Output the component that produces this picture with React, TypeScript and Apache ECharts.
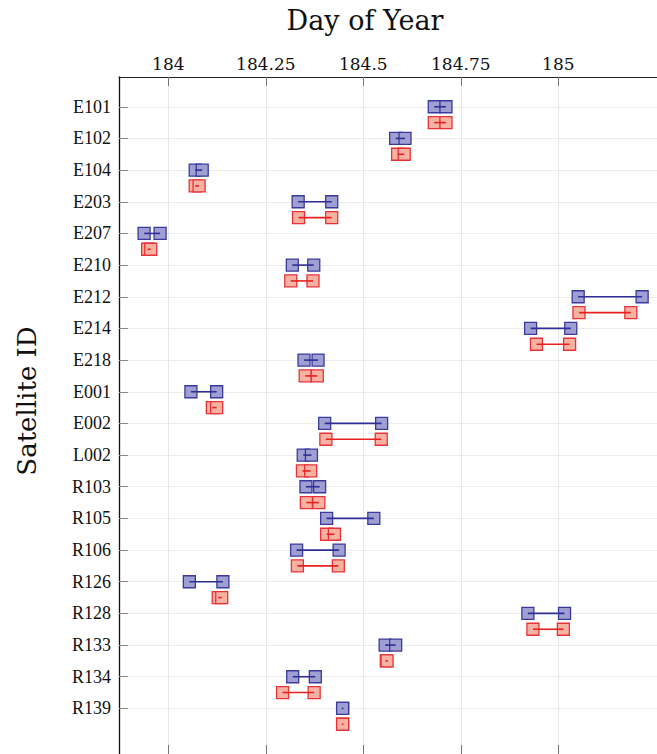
import React, { useEffect, useRef } from "react";
import * as echarts from "echarts";

// Satellite identifiers, top to bottom
const satelliteIds = [
  "E101", "E102", "E104", "E203", "E207", "E210", "E212", "E214", "E218", "E001",
  "E002", "L002", "R103", "R105", "R106", "R126", "R128", "R133", "R134", "R139",
];

// Interval start / end (day of year) for the first solution (blue)
const blueStart = [
  184.682, 184.583, 184.069, 184.333, 183.938, 184.318, 185.051, 184.929, 184.348, 184.058,
  184.401, 184.346, 184.353, 184.406, 184.329, 184.054, 184.922, 184.556, 184.319, 184.447,
];
const blueEnd = [
  184.712, 184.607, 184.087, 184.419, 183.979, 184.373, 185.215, 185.032, 184.384, 184.124,
  184.547, 184.367, 184.388, 184.527, 184.438, 184.14, 185.016, 184.583, 184.377, 184.447,
];

// Interval start / end (day of year) for the second solution (red)
const redStart = [
  184.682, 184.588, 184.069, 184.334, 183.947, 184.314, 185.053, 184.944, 184.351, 184.113,
  184.404, 184.344, 184.354, 184.406, 184.331, 184.128, 184.935, 184.559, 184.293, 184.447,
];
const redEnd = [
  184.712, 184.605, 184.079, 184.419, 183.955, 184.371, 185.186, 185.029, 184.382, 184.124,
  184.546, 184.365, 184.386, 184.426, 184.436, 184.137, 185.013, 184.561, 184.374, 184.447,
];

// Axis ticks
const xTicks = [184, 184.25, 184.5, 184.75, 185];
const yTicks = satelliteIds.map((_, i) => i + 1);

const X_MIN = 183.8736;
const X_MAX = 185.2531;
const Y_MIN = 0.06;
const Y_MAX = 21.44;

const SERIF = "DejaVu Serif";

function intervalSeries(
  name: string,
  starts: number[],
  ends: number[],
  offset: number,
  lineColor: string,
  fill: string,
  border: string
) {
  const data = starts.map((s, i) => [s, ends[i], i + 1 + offset]);
  return {
    type: "custom",
    name,
    xAxisIndex: 0,
    yAxisIndex: 0,
    encode: { x: [0, 1], y: 2 },
    data,
    renderItem: (_params: any, api: any) => {
      const a = api.coord([api.value(0), api.value(2)]);
      const b = api.coord([api.value(1), api.value(2)]);
      const h = 6;
      const square = (p: number[]) => ({
        type: "rect",
        shape: { x: p[0] - h, y: p[1] - h, width: 2 * h, height: 2 * h },
        style: { fill, stroke: border, lineWidth: 1.3 },
      });
      // keep a visible centre dash even when both ends coincide
      const pad = Math.abs(b[0] - a[0]) < 1.5 ? 0.8 : 0;
      return {
        type: "group",
        children: [
          square(a),
          square(b),
          {
            type: "line",
            shape: { x1: a[0] - pad, y1: a[1], x2: b[0] + pad, y2: b[1] },
            style: { stroke: lineColor, lineWidth: 1.6 },
          },
        ],
      };
    },
  };
}

export default function App() {
  const ref = useRef<HTMLDivElement>(null);

  useEffect(() => {
    if (!ref.current) return;
    const chart = echarts.init(ref.current, undefined, { renderer: "svg" });

    const xAxisCommon = {
      type: "value",
      min: X_MIN,
      max: X_MAX,
      axisTick: {
        show: true,
        inside: true,
        length: 9,
        customValues: xTicks,
        lineStyle: { color: "#777", width: 1 },
      },
    };

    chart.setOption({
      animation: false,
      backgroundColor: "#ffffff",
      grid: { left: 119, top: 77, right: 0, bottom: 0, containLabel: false },
      xAxis: [
        {
          ...xAxisCommon,
          position: "top",
          axisLine: { show: true, lineStyle: { color: "#222", width: 1 } },
          axisLabel: {
            customValues: xTicks,
            margin: 5,
            color: "#111",
            fontFamily: SERIF,
            fontSize: 17,
            formatter: (v: number) => String(Math.round(v * 100) / 100),
          },
          splitLine: { show: true, lineStyle: { color: "#e8e8e8", width: 1 } },
        },
        {
          ...xAxisCommon,
          position: "bottom",
          axisLine: { show: false },
          axisLabel: { show: false },
          splitLine: { show: false },
        },
      ],
      yAxis: {
        type: "value",
        inverse: true,
        min: Y_MIN,
        max: Y_MAX,
        axisLine: { show: true, lineStyle: { color: "#111", width: 1.3 } },
        axisTick: {
          show: true,
          inside: true,
          length: 9,
          customValues: yTicks,
          lineStyle: { color: "#888", width: 1 },
        },
        axisLabel: {
          customValues: yTicks,
          margin: 8,
          color: "#111",
          fontFamily: "Liberation Serif",
          fontSize: 18,
          formatter: (v: number) => satelliteIds[Math.round(v) - 1] ?? "",
        },
        splitLine: { show: true, lineStyle: { color: "#ececec", width: 1 } },
      },
      series: [
        intervalSeries(
          "Solution A",
          blueStart,
          blueEnd,
          0,
          "#2e2e96",
          "#9f9fd2",
          "#3a3a9e"
        ),
        intervalSeries(
          "Solution B",
          redStart,
          redEnd,
          0.5,
          "#e82020",
          "#f8b2a2",
          "#e8323a"
        ),
      ],
      graphic: [
        {
          type: "text",
          x: 365,
          y: 20,
          style: {
            text: "Day of Year",
            fontFamily: SERIF,
            fontSize: 27,
            fill: "#111",
            align: "center",
            verticalAlign: "middle",
          },
        },
        {
          type: "text",
          x: 27,
          y: 401,
          rotation: Math.PI / 2,
          style: {
            text: "Satellite ID",
            fontFamily: SERIF,
            fontSize: 26,
            fill: "#111",
            align: "center",
            verticalAlign: "middle",
          },
        },
      ],
    });

    return () => chart.dispose();
  }, []);

  return (
    <div
      ref={ref}
      style={{ position: "fixed", left: 0, top: 0, width: 657, height: 754 }}
    />
  );
}
